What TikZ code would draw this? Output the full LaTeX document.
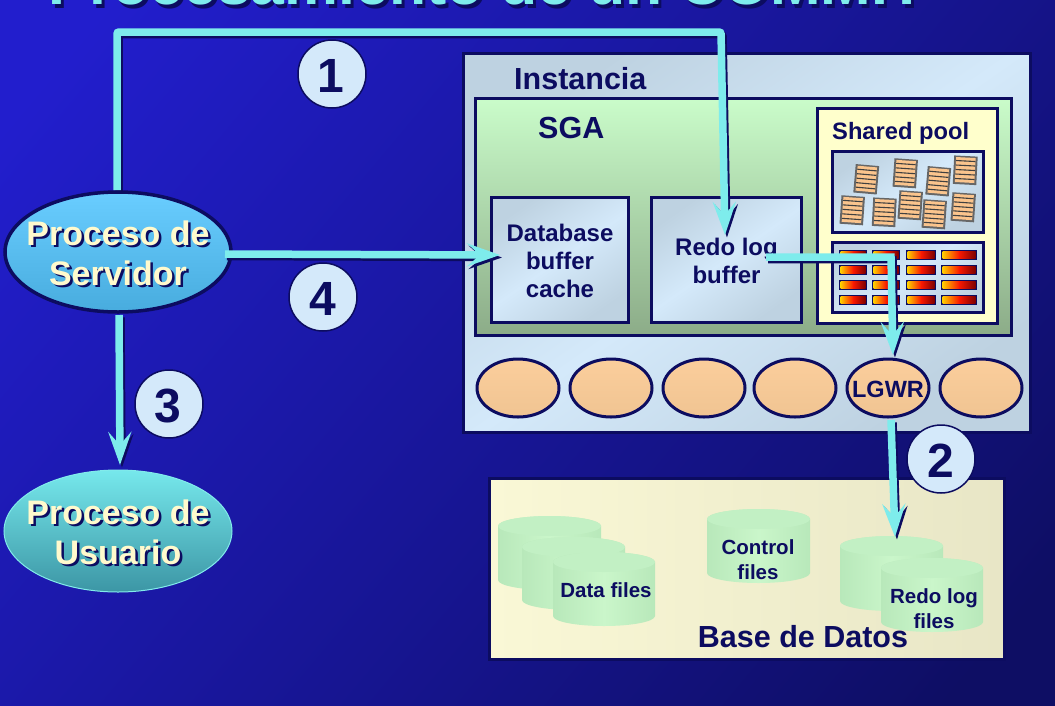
\documentclass[tikz,border=0pt]{standalone}
\usepackage{fontspec}
\setmainfont{Liberation Sans}
\usetikzlibrary{shapes.geometric,arrows.meta,shadings}
\definecolor{navy}{RGB}{12,12,96}
\definecolor{cyanline}{RGB}{126,236,236}
\definecolor{cream}{RGB}{255,250,205}
\definecolor{paleblue}{RGB}{212,233,250}
\definecolor{greyblue}{RGB}{190,210,225}
\definecolor{cylA}{RGB}{184,232,186}
\definecolor{cylB}{RGB}{202,246,202}
\definecolor{cylT}{RGB}{194,240,196}
\definecolor{barY}{RGB}{255,205,0}
\definecolor{barR}{RGB}{250,25,0}
\definecolor{barD}{RGB}{125,0,0}
\tikzset{
  x=1pt,y=-1pt,
  panel/.style={draw=navy,line width=3pt,rectangle,inner sep=0pt,outer sep=0pt},
  bluepanel/.style={panel,shading=axis,left color=greyblue,right color=greyblue,middle color=paleblue,shading angle=35},
  diagpanel/.style={bluepanel},
  proc/.style={ellipse,draw=navy,line width=3pt,minimum width=82pt,minimum height=58pt,inner sep=0pt,top color={rgb,255:red,251;green,206;blue,156},bottom color={rgb,255:red,240;green,196;blue,146}},
  numdisc/.style={circle,draw=navy,line width=1.5pt,fill=paleblue,minimum size=68pt,inner sep=0pt},
  numtext/.style={font=\bfseries\fontsize{48}{48}\selectfont,text=navy,inner sep=0pt},
  lbl/.style={font=\bfseries\fontsize{24}{28}\selectfont,text=navy,align=center,inner sep=0pt},
  biglbl/.style={font=\bfseries\fontsize{30.5}{34}\selectfont,text=navy,inner sep=0pt},
  smalllbl/.style={font=\bfseries\fontsize{20.5}{25}\selectfont,text=navy,align=center,inner sep=0pt},
  whitelbl/.style={font=\bfseries\fontsize{34}{40}\selectfont,align=center,inner sep=0pt},
  flow/.style={line width=7.5pt,color=cyanline,-{Stealth[length=33pt,width=23pt,inset=13pt]}},
  flowshadow/.style={line width=7.5pt,color=navy,-{Stealth[length=33pt,width=23pt,inset=13pt]}},
}
\newcommand{\shadowtext}[3]{%
  \node[whitelbl,text=navy] (#1s) at ([shift={(2.5,2.5)}]#2) {#3};
  \node[whitelbl,text=cream] (#1) at (#2) {#3};}
\newcommand{\flowline}[1]{%
  \draw[flowshadow,transform canvas={shift={(2pt,-2.5pt)}}] #1;
  \draw[flow] #1;}
\newcommand{\cyl}[5]{% name, left, right, top, bottom
  \shade[left color=cylA,right color=cylA,middle color=cylB]
    (#2,#4) arc[x radius={(#3-#2)/2},y radius=10,start angle=180,end angle=360]
    -- (#3,#5) arc[x radius={(#3-#2)/2},y radius=10,start angle=0,end angle=180] -- cycle;
  \fill[cylT] ({(#2+#3)/2},#4) ellipse[x radius={(#3-#2)/2},y radius=10];
  \coordinate (#1) at ({(#2+#3)/2},{(#4+#5)/2});}
\newcommand{\docicon}[3]{%
  \begin{scope}[shift={(#1,#2)},rotate=#3]
    \fill[gray!80!black] (-11.5,-14) rectangle (12,14.5);
    \fill[orange!42!white!92!brown] (-9.5,-12.5) rectangle (10,12.5);
    \foreach \yy in {-9,-4.5,0,4.5,9} \draw[black!75,line width=1.1pt] (-9.5,\yy) -- (10,\yy);
  \end{scope}}
\newcommand{\redbar}[3]{%
  \fill[navy] (#1,#3-5) rectangle (#2,#3+5);
  \shade[left color=barY,right color=barR] (#1+1.5,#3-3.5) rectangle ({(#1+#2)/2+0.2},#3+3.5);
  \shade[left color=barR,right color=barD] ({(#1+#2)/2},#3-3.5) rectangle (#2-1.5,#3+3.5);}
\begin{document}
\begin{tikzpicture}
\useasboundingbox (0,0) rectangle (1055,705);
\clip (0,0) rectangle (1055,705);
% background
\shade[top color={rgb,255:red,34;green,30;blue,205},middle color={rgb,255:red,24;green,24;blue,150},bottom color={rgb,255:red,14;green,14;blue,100},shading angle=50] (-100,-100) rectangle (1155,805);
% title
\node[font=\bfseries\fontsize{60.7}{61}\selectfont,text=navy,anchor=base,inner sep=0pt] (titles) at (490,8) {Procesamiento de un COMMIT};
\node[font=\bfseries\fontsize{60.7}{61}\selectfont,text=cyanline,anchor=base,inner sep=0pt] (title) at (487,4) {Procesamiento de un COMMIT};
% Instancia
\node[diagpanel,minimum width=567pt,minimum height=379pt,anchor=north west] (inst) at (463,53) {};
\node[biglbl,anchor=base west] (instl) at (514,89) {Instancia};
% SGA
\node[panel,top color={rgb,255:red,202;green,252;blue,202},bottom color={rgb,255:red,140;green,172;blue,136},minimum width=536pt,minimum height=237pt,anchor=north west] (sga) at (475,98) {};
\node[biglbl,anchor=base west] (sgal) at (538,138) {SGA};
\node[bluepanel,minimum width=137pt,minimum height=125pt,anchor=north west] (dbc) at (491,197) {};
\node[lbl] (dbcl) at (560,261) {Database\\ buffer\\ cache};
\node[bluepanel,minimum width=150pt,minimum height=125pt,anchor=north west] (redo) at (651,197) {};
\node[lbl] (redol) at (726.5,261) {Redo log\\ buffer};
% Shared pool
\node[panel,fill={rgb,255:red,255;green,255;blue,204},minimum width=180pt,minimum height=215pt,anchor=north west] (sp) at (817,108) {};
\node[lbl,font=\bfseries\fontsize{23.7}{28}\selectfont,anchor=base west] (spl) at (832,139) {Shared pool};
\node[bluepanel,minimum width=151pt,minimum height=81pt,anchor=north west] (lib) at (832,151) {};
\node[bluepanel,minimum width=151pt,minimum height=70pt,anchor=north west] (dict) at (832,242) {};
\docicon{866}{179}{-5}\docicon{905}{173}{-4}\docicon{938}{181}{-5}\docicon{965}{170}{-3}
\docicon{852}{210}{-4}\docicon{884}{212}{-3}\docicon{910}{205}{-4}\docicon{934}{214}{-4}\docicon{963}{207}{-4}
\foreach \ry in {255,270,285,300}{
  \redbar{839}{867}{\ry}\redbar{872}{900}{\ry}\redbar{906}{936}{\ry}\redbar{941}{977}{\ry}}
% background processes
\node[proc] (p1) at (518,388) {};
\node[proc] (p2) at (611,388) {};
\node[proc] (p3) at (704,388) {};
\node[proc] (p4) at (795,388) {};
\node[proc] (lgwr) at (888,388) {};
\node[lbl,font=\bfseries\fontsize{23.5}{28}\selectfont] (lgwrl) at (888,389) {LGWR};
\node[proc] (p6) at (981,388) {};
% Base de datos
\node[panel,left color={rgb,255:red,250;green,248;blue,214},right color={rgb,255:red,232;green,230;blue,198},minimum width=515pt,minimum height=181pt,anchor=north west] (bd) at (489,478.5) {};
\cyl{c1}{498}{601}{526}{580}
\cyl{c2}{522}{625}{547}{600}
\cyl{c3}{553}{655}{562}{616}
\node[smalllbl] (c3l) at (606,590) {Data files};
\cyl{c4}{707}{810}{519}{573}
\node[smalllbl] (c4l) at (758,560) {Control\\ files};
\cyl{c5}{840}{943}{546}{601}
\cyl{c6}{881}{983}{568}{622}
\node[smalllbl] (c6l) at (934,609) {Redo log\\ files};
\node[biglbl] (bdl) at (803,637) {Base de Datos};
% client ellipses
\node[ellipse,draw=navy,line width=3.5pt,minimum width=226pt,minimum height=120pt,inner sep=0pt,top color={rgb,255:red,105;green,205;blue,255},bottom color={rgb,255:red,72;green,172;blue,222}] (srv) at (118,252) {};
\shadowtext{srvl}{118,253}{Proceso de\\ Servidor}
\node[ellipse,draw={rgb,255:red,130;green,235;blue,235},line width=1pt,minimum width=228pt,minimum height=122pt,inner sep=0pt,top color={rgb,255:red,118;green,232;blue,236},bottom color={rgb,255:red,60;green,150;blue,165}] (usr) at (118,531) {};
\shadowtext{usrl}{118,532}{Proceso de\\ Usuario}
% connectors
\coordinate (c1a) at (117,190);
\coordinate (c1b) at (721,32);
\coordinate (c1t) at (725,235);
\coordinate (c2a) at (891,420);
\coordinate (c2t) at (895,537);
\coordinate (c3a) at (119,315);
\coordinate (c3t) at (120,465);
\coordinate (c4a) at (225,254);
\coordinate (c4t) at (500,255);
\coordinate (c5a) at (766,257);
\coordinate (c5b) at (891,257);
\coordinate (c5t) at (893,355);
\flowline{[rounded corners=2pt] (c1a) |- (c1b) -- (c1t)}
\flowline{(c5a) -- (c5b) -- (c5t)}
\flowline{(c2a) -- (c2t)}
\flowline{(c3a) -- (c3t)}
\flowline{(c4a) -- (c4t)}
% number discs
\node[numdisc] (n1) at (332,74) {};
\node[numtext] (n1l) at (331,76) {1};
\node[numdisc] (n2) at (941,459) {};
\node[numtext] (n2l) at (941,461) {2};
\node[numdisc] (n3) at (169,404) {};
\node[numtext] (n3l) at (168,406) {3};
\node[numdisc] (n4) at (323,297) {};
\node[numtext] (n4l) at (323,299) {4};
\end{tikzpicture}
\end{document}
